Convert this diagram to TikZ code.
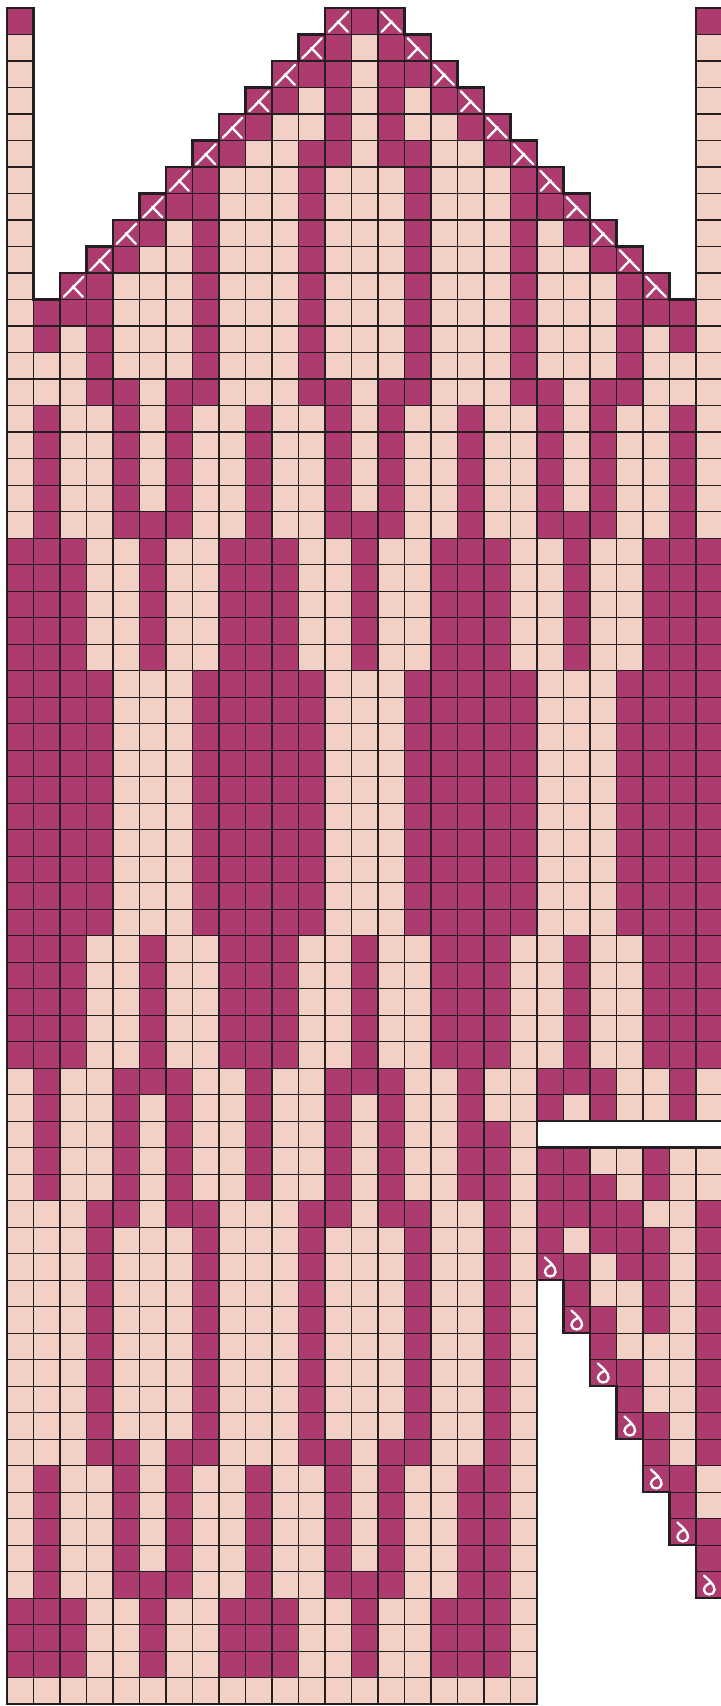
\documentclass[tikz,border=0pt]{standalone}
\usepackage{tikz}
\definecolor{berry}{HTML}{AD3B6F}
\definecolor{blush}{HTML}{F2D0C6}
\definecolor{ink}{HTML}{231F20}

% repeating row patterns (dark columns)
\def\patA{0,1,2,5,8,9,10,13,16,17,18,21,24,25,26}
\def\patB{0,1,2,3,7,8,9,10,11,15,16,17,18,19,23,24,25,26}
\def\patC{1,4,5,6,9,12,13,14,17,20,21,22,25}
\def\patD{1,4,6,9,12,14,17,20,22,25}

% outline of the chart
\def\mitten{(0,0) -- (1,0) -- (1,11)
  foreach \k in {2,...,12}{ -- (\k,13-\k) -- (\k,12-\k)} -- (15,0)
  foreach \k in {15,...,25}{ -- (\k,\k-14) -- (\k+1,\k-14)} -- (26,0) -- (27,0)
  -- (27,42) -- (20,42) -- (20,43) -- (27,43) -- (27,60)
  foreach \k in {26,25,...,21}{ -- (\k,2*\k+8) -- (\k,2*\k+6) -- (\k-1,2*\k+6)}
  -- (20,64) -- (0,64) -- cycle}

\begin{document}
\begin{tikzpicture}[x=0.5cm, y=-0.5cm,
    dark/.style={fill=berry},
    gridline/.style={draw=ink, line width=0.55pt},
    rim/.style={draw=ink, line width=1.5pt, line join=miter},
    stitchmark/.style={draw=white, line width=1.25pt, line cap=round}
]
\useasboundingbox (-0.264,-0.302) rectangle (26.906,64.075);

\fill[blush] \mitten;

% single rows
\foreach \r/\cs in {0/{0,12,13,14,26}, 1/{11,12,14,15}, 2/{10,11,12,14,15,16},
    3/{9,10,12,14,16,17}, 4/{8,9,12,14,17,18}, 5/{7,8,11,12,14,15,18,19},
    6/{6,7,11,15,19,20}, 7/{5,6,7,11,15,19,20,21}, 8/{4,5,7,11,15,19,21,22},
    9/{3,4,7,11,15,19,22,23}, 10/{2,3,7,11,15,19,23,24},
    11/{1,2,3,7,11,15,19,23,24,25}, 12/{1,3,7,11,15,19,23,25},
    13/{3,7,11,15,19,23}, 14/{3,4,6,7,11,12,14,15,19,20,22,23},
    42/{1,4,6,9,12,14,17,18}, 43/{1,4,6,9,12,14,17,18,20,21,24},
    44/{1,4,6,9,12,14,17,18,20,21,22,24},
    45/{3,4,6,7,11,12,14,15,18,20,21,22,23,26},
    46/{3,7,11,15,18,20,22,23,24,26}, 47/{3,7,11,15,18,20,21,23,24,26},
    48/{3,7,11,15,18,21,24,26}, 49/{3,7,11,15,18,21,22,24,26},
    50/{3,7,11,15,18,22,26}, 51/{3,7,11,15,18,22,23,26},
    52/{3,7,11,15,18,23,26}, 53/{3,7,11,15,18,23,24,26},
    54/{3,4,6,7,11,12,14,15,18,24,26}, 55/{1,4,6,9,12,14,17,18,24,25},
    56/{1,4,6,9,12,14,17,18,25}, 57/{1,4,6,9,12,14,17,18,25,26},
    58/{1,4,6,9,12,14,17,18,26}, 59/{1,4,5,6,9,12,13,14,17,18,26},
    60/{0,1,2,5,8,9,10,13,16,17,18}, 61/{0,1,2,5,8,9,10,13,16,17,18},
    62/{0,1,2,5,8,9,10,13,16,17,18}}
  {\foreach \c in \cs {\path[dark] (\c,\r) rectangle ++(1,1);}}

% repeated rows
\foreach \r in {20,...,24} {\foreach \c in \patA {\path[dark] (\c,\r) rectangle ++(1,1);}}
\foreach \r in {35,...,39} {\foreach \c in \patA {\path[dark] (\c,\r) rectangle ++(1,1);}}
\foreach \r in {25,...,34} {\foreach \c in \patB {\path[dark] (\c,\r) rectangle ++(1,1);}}
\foreach \r in {19,40} {\foreach \c in \patC {\path[dark] (\c,\r) rectangle ++(1,1);}}
\foreach \r in {15,16,17,18,41} {\foreach \c in \patD {\path[dark] (\c,\r) rectangle ++(1,1);}}

% grid
\begin{scope}
  \clip \mitten;
  \foreach \c in {1,...,26} \draw[gridline] (\c,0) -- (\c,64);
  \foreach \r in {1,...,63} \draw[gridline] (0,\r) -- (27,\r);
\end{scope}

% decreases along the top
\foreach \r in {0,...,10} {
  \draw[stitchmark, shift={(12-\r,\r)}] (0.88,0.14) -- (0.14,0.9) (0.48,0.5) -- (0.86,0.9);
  \draw[stitchmark, shift={(14+\r,\r)}] (0.12,0.14) -- (0.86,0.9) (0.52,0.5) -- (0.14,0.9);
}

% loops along the thumb
\foreach \k in {0,...,6}
  \draw[stitchmark, shift={(20+\k,47+2*\k)}] (0.3,0.15) .. controls (0.45,0.3) and (0.72,0.5) .. (0.7,0.7)
    .. controls (0.68,0.92) and (0.32,0.92) .. (0.3,0.7)
    .. controls (0.3,0.55) and (0.45,0.46) .. (0.58,0.42);

\draw[rim] \mitten;
\end{tikzpicture}
\end{document}
